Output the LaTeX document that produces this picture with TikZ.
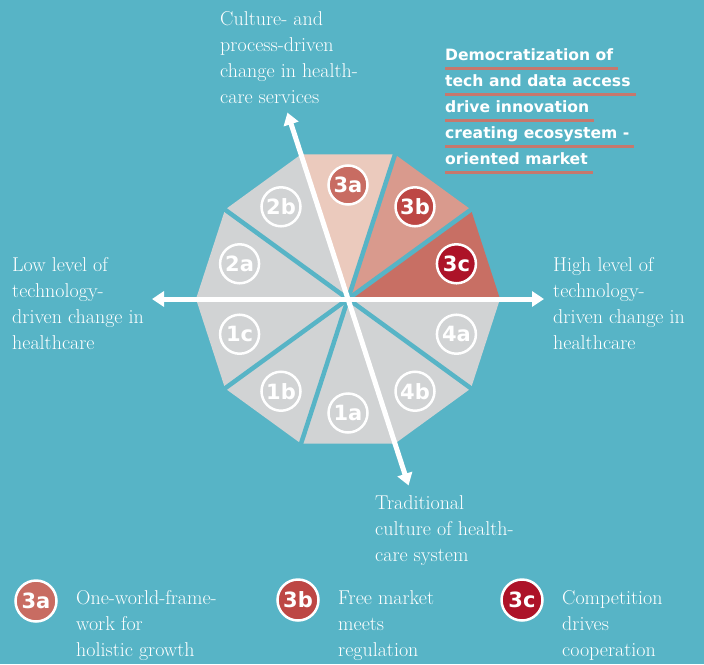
\documentclass[tikz,border=0pt]{standalone}
\usepackage{fontspec}
\newfontfamily\grotesk{DejaVu Sans}
\usetikzlibrary{calc,arrows.meta}

\definecolor{bgteal}{HTML}{57B4C6}
\definecolor{segrey}{HTML}{D1D3D4}
\definecolor{seg3a}{HTML}{EBCABD}
\definecolor{seg3b}{HTML}{D99A8D}
\definecolor{seg3c}{HTML}{C86F64}
\definecolor{dot3a}{HTML}{C86C62}
\definecolor{dot3b}{HTML}{BD4744}
\definecolor{dot3c}{HTML}{AD1328}
\definecolor{ulinered}{HTML}{C7786D}

\tikzset{
  badge/.style={circle, draw=white, line width=2.5pt, minimum size=39pt, inner sep=0pt,
    text=white, font=\grotesk\bfseries\fontsize{21}{21}\selectfont},
  caption/.style={align=left, inner sep=0pt, text=white, font=\fontsize{20}{26}\selectfont},
  boldline/.style={inner sep=0pt, text=white, font=\grotesk\bfseries\fontsize{15.6}{26}\selectfont},
  uline/.style={ulinered, line width=2.3pt},
  gap/.style={bgteal, line width=4.5pt},
  axis/.style={white, line width=5pt, {Triangle[length=12pt,width=15pt]}-{Triangle[length=12pt,width=15pt]}}
}

\begin{document}
\begin{tikzpicture}[x=1pt,y=-1pt]
    \fill[bgteal] (0,0) rectangle (704,664);
    \useasboundingbox (0,0) rectangle (704,664);

    % the wheel
    \begin{scope}[shift={(348,299)},yscale=-1]
        \coordinate (O) at (0,0);
        \foreach \a/\c in {0/seg3c,36/seg3b,72/seg3a,108/segrey,144/segrey,
                           180/segrey,216/segrey,252/segrey,288/segrey,324/segrey}
            \fill[\c] (O) -- (\a:152) -- (\a+36:152) -- cycle;
        \foreach \a in {36,72,144,216,252,324}
            \draw[gap] (O) -- (\a:160);
        \draw[axis] (180:196) coordinate (L) -- (0:196) coordinate (R);
        \draw[axis] (288:196) coordinate (D) -- (108:196) coordinate (U);
        \node[badge, fill=dot3c] (w3c) at (18:114) {3c};
        \node[badge, fill=dot3b] (w3b) at (54:114) {3b};
        \node[badge, fill=dot3a] (w3a) at (90:114) {3a};
        \node[badge] (w2b) at (126:114) {2b};
        \node[badge] (w2a) at (162:114) {2a};
        \node[badge] (w1c) at (198:114) {1c};
        \node[badge] (w1b) at (234:114) {1b};
        \node[badge] (w1a) at (270:114) {1a};
        \node[badge] (w4b) at (306:114) {4b};
        \node[badge] (w4a) at (342:114) {4a};
    \end{scope}

    % axis captions (anchored at the last baseline)
    \node[caption, anchor=base west] (up) at (220,103) {Culture- and\\process-driven\\change in health-\\care services};
    \node[caption, anchor=base west] (low) at (12,349) {Low level of\\technology-\\driven change in\\healthcare};
    \node[caption, anchor=base west] (high) at (553,349) {High level of\\technology-\\driven change in\\healthcare};
    \node[caption, anchor=base west] (trad) at (375,561) {Traditional\\culture of health-\\care system};

    % highlighted statement
    \foreach \t [count=\i] in {Democratization of,tech and data access,drive innovation,creating ecosystem -,oriented market} {
        \node[boldline, anchor=base west] (d\i) at (445,34+26*\i) {\t};
        \draw[uline] ([yshift=-8.5pt]d\i.base west) -- ([xshift=5pt,yshift=-8.5pt]d\i.base east);
    }

    % legend
    \node[badge, minimum size=41pt, fill=dot3a] (k3a) at (36,601) {3a};
    \node[badge, minimum size=41pt, fill=dot3b] (k3b) at (298,600) {3b};
    \node[badge, minimum size=41pt, fill=dot3c] (k3c) at (522,600) {3c};
    \node[caption, anchor=base west] (t3a) at (76,656) {One-world-frame-\\work for\\holistic growth};
    \node[caption, anchor=base west] (t3b) at (338,656) {Free market\\meets\\regulation};
    \node[caption, anchor=base west] (t3c) at (562,656) {Competition\\drives\\cooperation};
\end{tikzpicture}
\end{document}
